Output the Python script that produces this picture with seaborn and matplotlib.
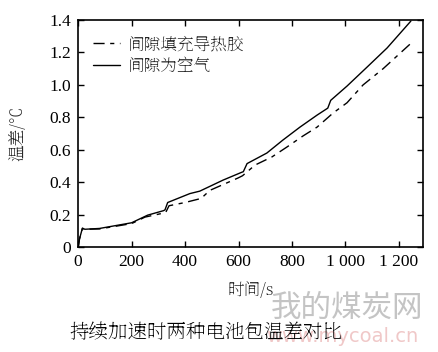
import pandas as pd
import matplotlib
matplotlib.use("Agg")
import matplotlib.pyplot as plt
from matplotlib import font_manager
import seaborn as sns

# 间隙为空气 (solid)
time_air = [0, 5, 16, 25, 80, 200, 260, 320, 325, 335, 418, 455, 542, 610, 618, 632,
            706, 766, 830, 894, 934, 945, 1006, 1081, 1156, 1245]
temp_air = [0, 0.05, 0.117, 0.11, 0.115, 0.15, 0.197, 0.225, 0.23, 0.275, 0.33, 0.345, 0.413,
            0.46, 0.465, 0.515, 0.58, 0.66, 0.74, 0.814, 0.857, 0.905, 0.993, 1.11, 1.228, 1.394]

# 间隙填充导热胶 (dashed)
time_glue = [0, 5, 16, 25, 80, 200, 250, 320, 328, 340, 400, 460, 493, 598, 615, 662,
             725, 781, 841, 894, 954, 1006, 1066, 1141, 1246]
temp_glue = [0, 0.05, 0.115, 0.11, 0.112, 0.145, 0.185, 0.21, 0.215, 0.255, 0.275, 0.30, 0.35,
             0.426, 0.44, 0.506, 0.556, 0.617, 0.685, 0.74, 0.827, 0.89, 1.0, 1.10, 1.258]

x_ticks = [0, 200, 400, 600, 800, 1000, 1200]
x_labels = ["0", "200", "400", "600", "800", "1 000", "1 200"]
y_ticks = [0, 0.2, 0.4, 0.6, 0.8, 1.0, 1.2, 1.4]
y_labels = ["0", "0.2", "0.4", "0.6", "0.8", "1.0", "1.2", "1.4"]

df_air = pd.DataFrame({"t": time_air, "dT": temp_air})
df_glue = pd.DataFrame({"t": time_glue, "dT": temp_glue})

sns.set_theme(style="ticks")

# 宋体风格的中文字体，若没有则用黑体
installed = {f.name for f in font_manager.fontManager.ttflist}
cjk_font = next((n for n in ["Noto Serif CJK SC", "Noto Serif SC", "Noto Sans CJK SC"]
                 if n in installed), "Noto Sans CJK SC")
cjk = [cjk_font, "Noto Sans CJK SC", "Liberation Serif", "DejaVu Sans"]
plt.rcParams["font.family"] = ["Liberation Serif", cjk_font, "DejaVu Sans"]
plt.rcParams["axes.unicode_minus"] = False

fig = plt.figure(figsize=(4.39, 3.52), dpi=100)
ax = fig.add_axes([0.178, 0.298, 0.786, 0.645])

sns.lineplot(data=df_glue, x="t", y="dT", ax=ax, color="black", linewidth=1.0,
             label="间隙填充导热胶", sort=False)
sns.lineplot(data=df_air, x="t", y="dT", ax=ax, color="black", linewidth=1.0,
             label="间隙为空气", sort=False)
ax.lines[0].set_dashes((8, 4, 3, 4))

ax.set_xlim(0, 1291)
ax.set_ylim(0, 1.4)
ax.set_xticks(x_ticks)
ax.set_xticklabels(x_labels)
ax.set_yticks(y_ticks)
ax.set_yticklabels(y_labels)
ax.tick_params(direction="in", top=True, right=True, length=4, width=1,
               labelsize=12.5, colors="black", pad=5)
for t in ax.get_xticklabels() + ax.get_yticklabels():
    t.set_fontfamily("Liberation Serif")
for s in ax.spines.values():
    s.set_linewidth(1.2)
    s.set_color("black")

ax.set_xlabel("时间/s", fontsize=12, family=cjk)
ax.set_ylabel("温差/℃", fontsize=12, family=cjk)
ax.xaxis.set_label_coords(0.5, -0.15)
ax.yaxis.set_label_coords(-0.15, 0.5)

leg = ax.legend(loc="upper left", frameon=False, handlelength=1.6,
                handletextpad=0.5, borderaxespad=0.5, labelspacing=0.25,
                prop={"family": cjk, "size": 12})
leg.get_lines()[0].set_dashes((8, 4, 3, 4))

# 水印
fig.text(0.79, 0.125, "我的煤炭网", fontsize=22, color="#c4c4c4", ha="center", va="center",
         family=["Noto Sans CJK SC"])
fig.text(0.78, 0.045, "www.mycoal.cn", fontsize=14, color="#f0c8c8", ha="center", va="center",
         family="DejaVu Sans")

fig.text(0.47, 0.053, "持续加速时两种电池包温差对比", fontsize=14, ha="center", va="center",
         color="black", family=cjk)

fig.savefig("out.png", dpi=100, facecolor="white")
